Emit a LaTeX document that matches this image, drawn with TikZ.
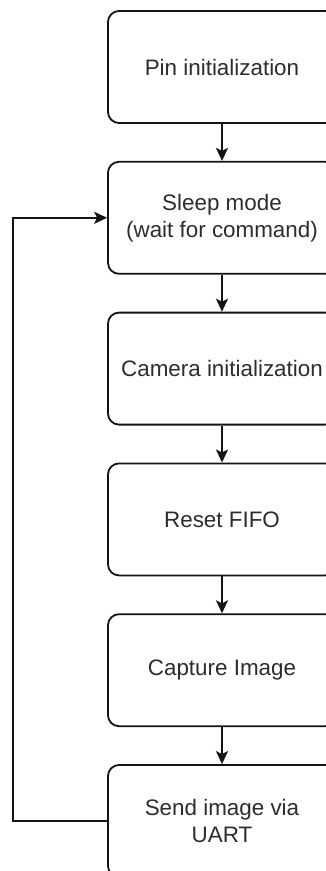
\documentclass[tikz,border=0pt]{standalone}
\usepackage{fontspec}
\setmainfont{Liberation Sans}
\usepackage{tikz}
\usetikzlibrary{arrows.meta, positioning}
\definecolor{linegray}{RGB}{20,20,20}
\definecolor{textgray}{RGB}{45,45,45}

\begin{document}
\begin{tikzpicture}[
				x=1pt, y=1pt,
				node distance=37pt,
				stepbox/.style={rectangle, rounded corners=11pt, draw=linegray, fill=white,
					line width=1.8pt, minimum width=228pt, minimum height=112pt,
					align=center, text=textgray, font=\fontsize{22.4}{26.9}\selectfont},
				arrow/.style={-{Stealth[length=13pt, width=12pt, inset=3pt]}, line width=1.8pt, color=linegray}
				]
				\useasboundingbox (0,0) rectangle (326,-871);
				\clip (0,0) rectangle (326,-871);

				\node[stepbox] (pin) at (222,-67) {Pin initialization};
				\node[stepbox, below=of pin] (sleep) {Sleep mode\\(wait for command)};
				\node[stepbox, below=of sleep] (camera) {Camera initialization};
				\node[stepbox, below=of camera] (fifo) {Reset FIFO};
				\node[stepbox, below=of fifo] (capture) {Capture Image};
				\node[stepbox, below=of capture] (send) {Send image via\\UART};

				\draw[arrow] (pin) -- (sleep);
				\draw[arrow] (sleep) -- (camera);
				\draw[arrow] (camera) -- (fifo);
				\draw[arrow] (fifo) -- (capture);
				\draw[arrow] (capture) -- (send);
				\draw[arrow] (send.west) -- ++(-94,0) |- (sleep.west);
			\end{tikzpicture}
\end{document}
